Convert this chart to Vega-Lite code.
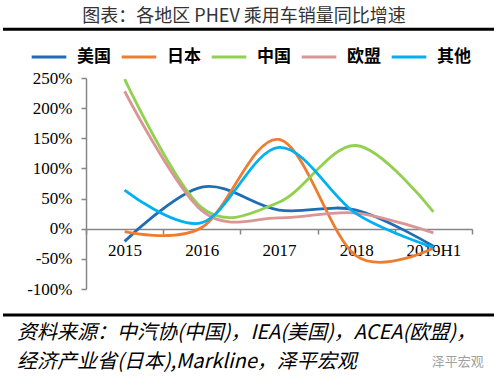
{
  "$schema": "https://vega.github.io/schema/vega-lite/v6.json",
  "width": 386,
  "height": 211,
  "autosize": "none",
  "padding": {"left": 86, "top": 78, "right": 28, "bottom": 91},
  "background": "white",
  "title": {
    "text": "图表：各地区 PHEV 乘用车销量同比增速",
    "font": "Noto Sans CJK SC",
    "fontSize": 18,
    "fontWeight": "normal",
    "color": "#333333",
    "anchor": "middle",
    "dx": -35,
    "offset": 2
  },
  "config": {
    "view": {"stroke": null},
    "axisY": {
      "title": null,
      "grid": false,
      "labelOverlap": false,
      "labelFont": "Liberation Serif",
      "labelFontSize": 17,
      "labelColor": "#000000",
      "labelPadding": 9,
      "domainColor": "#868686",
      "domainWidth": 1.5,
      "tickColor": "#868686",
      "tickWidth": 1.5,
      "tickSize": 5
    },
    "legend": {
      "orient": "none",
      "direction": "horizontal",
      "legendX": -56,
      "legendY": -40,
      "symbolType": "stroke",
      "symbolSize": 1200,
      "symbolStrokeWidth": 3,
      "labelFont": "Noto Sans CJK SC",
      "labelFontSize": 17,
      "labelFontWeight": "bold",
      "labelColor": "#000000",
      "labelOffset": 9,
      "columnPadding": 4,
      "title": null
    }
  },
  "resolve": {"scale": {"x": "independent"}},
  "layer": [
    {
      "data": {
        "values": [
          {"year": "2015", "region": "美国", "growth": -21},
          {"year": "2016", "region": "美国", "growth": 69},
          {"year": "2017", "region": "美国", "growth": 31},
          {"year": "2018", "region": "美国", "growth": 31},
          {"year": "2019H1", "region": "美国", "growth": -29},
          {"year": "2015", "region": "日本", "growth": -5},
          {"year": "2016", "region": "日本", "growth": 2},
          {"year": "2017", "region": "日本", "growth": 148},
          {"year": "2018", "region": "日本", "growth": -45},
          {"year": "2019H1", "region": "日本", "growth": -32},
          {"year": "2015", "region": "中国", "growth": 248},
          {"year": "2016", "region": "中国", "growth": 35},
          {"year": "2017", "region": "中国", "growth": 44},
          {"year": "2018", "region": "中国", "growth": 138},
          {"year": "2019H1", "region": "中国", "growth": 28},
          {"year": "2015", "region": "欧盟", "growth": 228},
          {"year": "2016", "region": "欧盟", "growth": 30},
          {"year": "2017", "region": "欧盟", "growth": 18},
          {"year": "2018", "region": "欧盟", "growth": 26},
          {"year": "2019H1", "region": "欧盟", "growth": -7},
          {"year": "2015", "region": "其他", "growth": 64},
          {"year": "2016", "region": "其他", "growth": 10},
          {"year": "2017", "region": "其他", "growth": 135},
          {"year": "2018", "region": "其他", "growth": 25},
          {"year": "2019H1", "region": "其他", "growth": -31}
        ]
      },
      "mark": {"type": "line", "interpolate": "cardinal", "strokeWidth": 2.8},
      "encoding": {
        "x": {
          "field": "year",
          "type": "nominal",
          "sort": ["2015", "2016", "2017", "2018", "2019H1"],
          "scale": {"paddingInner": 0, "paddingOuter": 0},
          "axis": {
            "title": null,
            "offset": -60,
            "labelAngle": 0,
            "labelFont": "Liberation Serif",
            "labelFontSize": 17,
            "labelColor": "#000000",
            "labelPadding": 8,
            "domainColor": "#868686",
            "domainWidth": 1.5,
            "tickColor": "#868686",
            "tickWidth": 1.5,
            "tickSize": 5,
            "tickBand": "extent"
          }
        },
        "y": {
          "field": "growth",
          "type": "quantitative",
          "scale": {"domain": [-100, 250], "nice": false, "zero": false},
          "axis": {"title": null, "values": [-100, -50, 0, 50, 100, 150, 200, 250], "labelExpr": "datum.value + '%'"}
        },
        "color": {
          "field": "region",
          "type": "nominal",
          "scale": {
            "domain": ["美国", "日本", "中国", "欧盟", "其他"],
            "range": ["#1f6db5", "#ed7d31", "#92d050", "#d99694", "#00b0f0"]
          },
          "legend": {"title": null}
        }
      }
    },
    {
      "data": {"values": [{}]},
      "mark": {"type": "rule", "color": "#000000", "strokeWidth": 3},
      "encoding": {
        "y": {"datum": 331, "type": "quantitative", "axis": {"title": null, "values": [-100, -50, 0, 50, 100, 150, 200, 250], "labelExpr": "datum.value + '%'"}},
        "x": {"datum": -0.215, "type": "quantitative", "scale": {"domain": [0, 1]}, "axis": null},
        "x2": {"datum": 1.057}
      }
    },
    {
      "data": {"values": [{}]},
      "mark": {"type": "rule", "color": "#000000", "strokeWidth": 3},
      "encoding": {
        "y": {"datum": -143, "type": "quantitative", "axis": {"title": null, "values": [-100, -50, 0, 50, 100, 150, 200, 250], "labelExpr": "datum.value + '%'"}},
        "x": {"datum": -0.215, "type": "quantitative", "scale": {"domain": [0, 1]}, "axis": null},
        "x2": {"datum": 1.057}
      }
    },
    {
      "data": {"values": [{"note": "资料来源：中汽协(中国)，IEA(美国)，ACEA(欧盟)，"}]},
      "mark": {"type": "text", "align": "left", "baseline": "middle", "font": "Noto Sans CJK SC", "fontSize": 20, "fontStyle": "italic", "color": "#000000"},
      "encoding": {
        "text": {"field": "note"},
        "y": {"datum": -173, "type": "quantitative", "axis": {"title": null, "values": [-100, -50, 0, 50, 100, 150, 200, 250], "labelExpr": "datum.value + '%'"}},
        "x": {"datum": -0.179, "type": "quantitative", "scale": {"domain": [0, 1]}, "axis": null}
      }
    },
    {
      "data": {"values": [{"note": "经济产业省(日本),Markline，泽平宏观"}]},
      "mark": {"type": "text", "align": "left", "baseline": "middle", "font": "Noto Sans CJK SC", "fontSize": 20, "fontStyle": "italic", "color": "#000000"},
      "encoding": {
        "text": {"field": "note"},
        "y": {"datum": -221, "type": "quantitative", "axis": {"title": null, "values": [-100, -50, 0, 50, 100, 150, 200, 250], "labelExpr": "datum.value + '%'"}},
        "x": {"datum": -0.179, "type": "quantitative", "scale": {"domain": [0, 1]}, "axis": null}
      }
    },
    {
      "data": {"values": [{"note": "泽平宏观"}]},
      "mark": {"type": "text", "align": "left", "baseline": "middle", "font": "Noto Sans CJK SC", "fontSize": 13, "color": "#a0a0a0"},
      "encoding": {
        "text": {"field": "note"},
        "y": {"datum": -221, "type": "quantitative", "axis": {"title": null, "values": [-100, -50, 0, 50, 100, 150, 200, 250], "labelExpr": "datum.value + '%'"}},
        "x": {"datum": 0.896, "type": "quantitative", "scale": {"domain": [0, 1]}, "axis": null}
      }
    }
  ]
}
